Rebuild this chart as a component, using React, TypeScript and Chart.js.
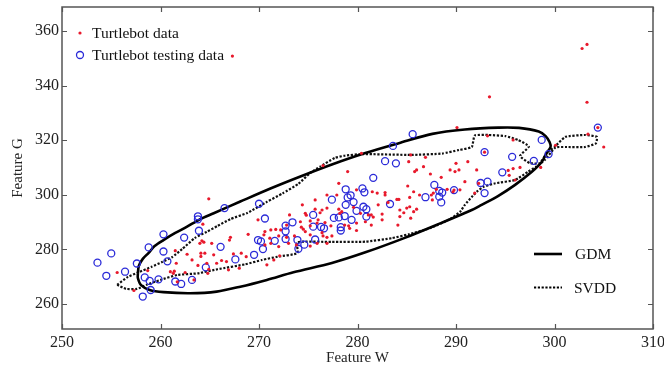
import React, { useEffect, useRef } from "react";
import { Chart, registerables } from "chart.js";

Chart.register(...registerables);

const xTicks = [250, 260, 270, 280, 290, 300, 310];
const yTicks = [260, 280, 300, 320, 340, 360];
const xRange = [250, 310];
const yRange = [250.8, 368.8];

const seriesNames = ["Turtlebot data", "Turtlebot testing data", "GDM", "SVDD"];

const trainingData: [number, number][] = [
  [255.6, 271.5], [257.3, 264.9], [258.7, 272.2], [261.0, 271.8], [261.4, 272.0], [261.3, 271.2], [261.6, 274.9],
  [261.5, 279.5], [262.5, 271.5], [262.7, 278.2], [263.2, 276.1], [263.4, 268.8], [261.7, 268.1], [263.8, 274.1],
  [264.0, 282.2], [264.2, 283.1], [264.4, 282.6], [265.2, 282.2], [264.1, 278.6], [264.5, 278.6], [265.4, 278.0],
  [264.1, 277.4], [264.3, 289.2], [264.9, 298.5], [264.7, 274.9], [264.9, 272.7], [264.8, 271.2], [265.7, 274.9],
  [266.2, 275.9], [266.7, 275.5], [266.9, 272.5], [267.0, 283.4], [267.1, 284.4], [267.4, 278.3], [268.0, 273.1],
  [268.2, 278.6], [268.7, 277.3], [268.9, 285.5], [269.9, 290.8], [270.5, 285.3], [270.6, 286.5], [270.6, 281.6],
  [270.8, 274.3], [271.1, 284.1], [271.2, 282.2], [271.2, 287.1], [271.5, 276.1], [271.7, 287.3], [272.0, 284.9],
  [272.0, 281.0], [272.1, 277.6], [272.2, 287.1], [272.8, 288.9], [272.8, 284.4], [273.0, 282.2], [273.1, 292.6],
  [273.6, 284.9], [273.8, 281.6], [274.2, 290.1], [274.3, 288.1], [274.4, 296.3], [274.5, 287.4], [274.7, 286.5],
  [274.7, 293.2], [274.8, 292.5], [275.2, 290.4], [275.2, 288.6], [275.2, 285.3], [275.2, 281.2], [275.7, 294.7],
  [275.7, 298.1], [275.9, 289.6], [275.9, 282.2], [276.0, 290.8], [276.2, 293.4], [276.4, 294.4], [276.4, 286.1],
  [276.5, 310.7], [276.5, 284.9], [276.7, 289.8], [276.9, 299.9], [276.9, 295.1], [276.9, 284.4], [276.9, 282.2],
  [277.3, 288.6], [277.4, 284.9], [277.9, 299.9], [278.1, 304.2], [278.1, 294.7], [278.4, 293.8], [278.2, 293.2],
  [279.0, 308.5], [278.7, 288.9], [279.1, 288.6], [279.2, 287.7], [279.6, 295.4], [279.9, 301.8], [279.9, 289.6],
  [279.9, 286.9], [280.3, 293.2], [280.4, 315.2], [280.8, 290.1], [281.1, 292.6], [281.4, 292.6], [281.6, 291.8],
  [281.4, 288.9], [281.5, 301.1], [282.0, 300.6], [282.1, 296.3], [282.5, 292.9], [282.5, 290.8], [282.8, 300.8],
  [282.8, 299.9], [283.1, 297.2], [284.0, 298.3], [284.2, 298.3], [284.1, 288.9], [284.3, 294.4], [284.3, 292.0],
  [284.7, 293.4], [285.0, 295.1], [285.3, 295.6], [285.7, 293.8], [286.0, 294.7], [285.4, 291.4], [285.1, 303.2],
  [285.2, 312.1], [285.3, 299.0], [285.4, 314.6], [285.7, 301.1], [285.8, 308.5], [286.0, 309.1], [286.7, 310.3],
  [286.3, 299.9], [286.9, 313.7], [287.4, 307.6], [287.5, 299.9], [287.7, 300.6], [287.6, 298.1], [288.0, 302.0],
  [288.5, 306.4], [289.1, 302.0], [289.4, 309.1], [289.9, 308.5], [290.3, 309.1], [289.7, 301.1], [290.0, 311.5],
  [290.1, 324.6], [290.4, 301.8], [290.9, 304.8], [291.2, 312.1], [291.9, 300.6], [292.1, 309.1], [292.3, 304.2],
  [293.2, 321.6], [293.4, 335.9], [295.3, 308.9], [295.8, 309.6], [296.5, 310.0], [295.4, 307.1], [296.0, 305.4],
  [295.8, 320.1], [298.6, 310.0], [300.1, 318.1], [302.8, 353.6], [303.3, 355.1], [303.3, 333.9], [303.4, 322.2],
  [305.0, 317.5], [267.3, 350.8], [292.9, 315.6], [289.8, 301.7], [304.4, 324.6],
];

const testingData: [number, number][] = [
  [253.6, 275.1], [254.5, 270.3], [255.0, 278.5], [256.4, 271.8], [257.6, 274.8], [258.8, 280.7], [258.4, 269.7],
  [258.9, 268.4], [258.2, 262.7], [259.0, 265.1], [259.8, 269.0], [260.3, 285.5], [260.3, 279.2], [260.7, 275.6],
  [261.5, 268.2], [262.1, 267.3], [262.4, 284.3], [263.2, 268.8], [263.8, 292.1], [263.8, 291.0], [263.9, 286.8],
  [264.6, 273.4], [266.1, 280.9], [266.5, 295.1], [267.6, 276.3], [269.5, 278.0], [270.0, 296.7], [269.9, 283.4],
  [270.2, 282.9], [270.4, 280.1], [270.6, 291.3], [271.6, 283.1], [272.7, 288.7], [272.7, 286.6], [272.7, 283.8],
  [273.4, 289.9], [273.9, 283.4], [274.0, 280.2], [274.6, 281.7], [275.5, 292.6], [275.7, 283.6], [276.3, 288.2],
  [276.6, 287.7], [277.4, 298.2], [277.6, 291.5], [278.1, 291.7], [278.7, 292.2], [278.3, 288.1], [278.3, 286.9],
  [278.8, 302.0], [279.3, 299.8], [279.0, 299.0], [280.5, 302.3], [280.7, 300.9], [279.6, 297.3], [278.8, 296.3],
  [279.9, 294.1], [280.6, 295.6], [280.9, 294.7], [280.9, 292.0], [279.4, 290.8], [281.6, 306.2], [282.8, 312.3],
  [283.9, 311.5], [283.6, 317.9], [285.6, 322.2], [283.3, 296.6], [286.9, 299.1], [287.8, 303.6], [288.3, 301.4],
  [288.6, 300.8], [288.3, 299.3], [288.5, 297.2], [289.8, 301.7], [292.5, 304.3], [293.2, 304.8], [292.9, 300.6],
  [292.9, 315.6], [294.7, 308.2], [295.7, 313.9], [297.9, 312.4], [298.7, 320.1], [299.4, 314.9], [304.4, 324.6],
  [275.5, 288.3],
];

const gdmBoundary: [number, number][] = [
  [257.7, 271.0], [257.8, 273.9], [258.2, 276.5], [258.8, 278.7], [259.4, 281.2], [260.3, 283.4], [261.5, 286.0],
  [262.7, 288.3], [264.0, 291.0], [265.4, 293.2], [268.1, 297.5], [271.1, 302.2], [274.2, 306.7], [277.4, 311.1],
  [280.8, 315.3], [284.2, 318.9], [287.6, 322.3], [290.9, 323.9], [294.3, 324.6], [296.4, 324.5], [298.4, 323.2],
  [299.1, 321.5], [299.5, 319.3], [299.6, 317.5], [299.2, 315.3], [298.7, 312.0], [297.7, 308.4], [296.0, 303.6],
  [294.3, 299.6], [292.6, 296.3], [291.6, 294.4], [288.4, 289.5], [284.8, 284.2], [280.8, 278.9], [277.4, 275.0],
  [273.5, 271.6], [270.8, 268.8], [268.1, 266.3], [265.7, 264.5], [263.0, 263.9], [260.3, 264.3], [258.9, 265.1],
  [258.0, 267.0], [257.7, 269.5], [257.7, 271.0],
];

const svddBoundary: [number, number][] = [
  [255.6, 267.0], [256.7, 269.9], [257.7, 271.5], [259.1, 273.6], [260.2, 275.4], [261.2, 277.2], [262.2, 280.1],
  [263.5, 284.2], [264.7, 286.4], [265.8, 288.6], [267.1, 291.1], [268.8, 293.3], [270.8, 297.4], [272.4, 300.5],
  [274.0, 304.0], [275.2, 308.0], [276.2, 310.3], [277.7, 313.5], [278.7, 314.3], [280.5, 314.9], [285.5, 314.6],
  [288.6, 315.1], [290.3, 316.4], [291.6, 317.5], [291.9, 321.7], [293.3, 321.9], [295.0, 321.5], [296.3, 320.1],
  [297.4, 317.7], [296.5, 314.2], [297.5, 311.6], [298.5, 311.6], [299.3, 315.7], [300.0, 317.5], [301.1, 321.2],
  [303.1, 321.9], [304.3, 321.2], [304.2, 318.8], [303.1, 317.5], [301.1, 317.5], [300.1, 317.3], [299.0, 312.7],
  [298.1, 310.2], [297.3, 308.4], [296.0, 305.4], [294.0, 304.2], [292.8, 302.9], [292.2, 301.4], [291.6, 299.2],
  [290.9, 296.3], [290.4, 293.7], [289.4, 291.1], [287.4, 287.8], [285.2, 285.5], [283.5, 284.1], [280.8, 282.8],
  [277.4, 282.7], [273.9, 282.6], [273.9, 278.6], [271.9, 277.3], [270.3, 276.1], [268.6, 274.5], [265.8, 272.7],
  [263.8, 271.2], [261.7, 270.6], [260.0, 268.8], [258.6, 267.0], [257.6, 265.5], [256.5, 265.5], [255.6, 267.0],
];

const RED = "#e8192c";
const BLUE = "#2a2ad8";
const FONT = '"Liberation Serif", "Times New Roman", serif';

const toXY = (arr: [number, number][]) => arr.map(([x, y]) => ({ x, y }));

const decorPlugin = {
  id: "decor",
  afterDraw(chart: any) {
    const { ctx, chartArea: a, scales } = chart;
    const xs = scales.x;
    const ys = scales.y;
    ctx.save();
    ctx.strokeStyle = "#555";
    ctx.lineWidth = 1.5;
    ctx.strokeRect(a.left, a.top, a.right - a.left, a.bottom - a.top);
    ctx.beginPath();
    for (const v of xTicks) {
      const px = Math.round(xs.getPixelForValue(v)) + 0.5;
      ctx.moveTo(px, a.bottom);
      ctx.lineTo(px, a.bottom - 5);
      ctx.moveTo(px, a.top);
      ctx.lineTo(px, a.top + 5);
    }
    for (const v of yTicks) {
      const py = Math.round(ys.getPixelForValue(v)) + 0.5;
      ctx.moveTo(a.left, py);
      ctx.lineTo(a.left + 5, py);
      ctx.moveTo(a.right, py);
      ctx.lineTo(a.right - 5, py);
    }
    ctx.lineWidth = 1.2;
    ctx.stroke();

    ctx.font = `15.5px ${FONT}`;
    ctx.textBaseline = "middle";
    ctx.textAlign = "left";
    const lx = a.left + 18;
    const r1 = a.top + 26;
    const r2 = a.top + 48;
    ctx.beginPath();
    ctx.arc(lx, r1, 1.6, 0, Math.PI * 2);
    ctx.fillStyle = RED;
    ctx.fill();
    ctx.beginPath();
    ctx.arc(lx, r2, 3.5, 0, Math.PI * 2);
    ctx.strokeStyle = BLUE;
    ctx.lineWidth = 1.3;
    ctx.stroke();
    ctx.fillStyle = "#111";
    ctx.fillText(seriesNames[0], a.left + 30, r1 + 1);
    ctx.fillText(seriesNames[1], a.left + 30, r2 + 1);

    const x0 = a.right - 119;
    const x1 = a.right - 91;
    const g1 = a.bottom - 75;
    const g2 = a.bottom - 41.5;
    ctx.strokeStyle = "#000";
    ctx.lineWidth = 2.6;
    ctx.beginPath();
    ctx.moveTo(x0, g1);
    ctx.lineTo(x1, g1);
    ctx.stroke();
    ctx.setLineDash([2.2, 1.6]);
    ctx.lineWidth = 2.2;
    ctx.beginPath();
    ctx.moveTo(x0, g2);
    ctx.lineTo(x1, g2);
    ctx.stroke();
    ctx.setLineDash([]);
    ctx.fillStyle = "#111";
    ctx.fillText(seriesNames[2], a.right - 78, g1 + 1);
    ctx.fillText(seriesNames[3], a.right - 79, g2 + 1);
    ctx.restore();
  },
};

export default function App() {
  const ref = useRef<HTMLCanvasElement | null>(null);
  useEffect(() => {
    if (!ref.current) return;
    const chart = new Chart(ref.current, {
      type: "scatter",
      data: {
        datasets: [
          {
            label: seriesNames[0],
            data: toXY(trainingData),
            pointRadius: 1.6,
            pointBackgroundColor: RED,
            pointBorderWidth: 0,
            showLine: false,
          },
          {
            label: seriesNames[1],
            data: toXY(testingData),
            pointRadius: 3.5,
            pointBackgroundColor: "rgba(0,0,0,0)",
            pointBorderColor: BLUE,
            pointBorderWidth: 1.3,
            showLine: false,
          },
          {
            label: seriesNames[2],
            data: toXY(gdmBoundary),
            showLine: true,
            pointRadius: 0,
            borderColor: "#000",
            borderWidth: 2.6,
            tension: 0.3,
            fill: false,
          },
          {
            label: seriesNames[3],
            data: toXY(svddBoundary),
            showLine: true,
            pointRadius: 0,
            borderColor: "#111",
            borderWidth: 2.2,
            borderDash: [2.2, 1.6],
            tension: 0.15,
            fill: false,
          },
        ],
      } as any,
      options: {
        animation: false,
        responsive: false,
        events: [],
        layout: { padding: { left: 0, right: 11, top: 7, bottom: 0 } },
        plugins: { legend: { display: false }, tooltip: { enabled: false } },
        scales: {
          x: {
            type: "linear",
            min: xRange[0],
            max: xRange[1],
            afterBuildTicks: (ax: any) => {
              ax.ticks = xTicks.map((v) => ({ value: v }));
            },
            afterFit: (s: any) => {
              s.height = 41;
              s.paddingLeft = 0;
              s.paddingRight = 0;
            },
            ticks: { font: { family: FONT, size: 16 }, color: "#222", padding: 4, maxRotation: 0, autoSkip: false },
            grid: { display: false, drawTicks: false },
            border: { display: false },
            title: {
              display: true,
              text: "Feature W",
              font: { family: FONT, size: 15 },
              color: "#222",
              padding: { top: 0, bottom: 3 },
            },
          },
          y: {
            type: "linear",
            min: yRange[0],
            max: yRange[1],
            afterBuildTicks: (ax: any) => {
              ax.ticks = yTicks.map((v) => ({ value: v }));
            },
            afterFit: (s: any) => {
              s.width = 62;
              s.paddingTop = 0;
              s.paddingBottom = 0;
            },
            ticks: { font: { family: FONT, size: 16 }, color: "#222", padding: 3, autoSkip: false },
            grid: { display: false, drawTicks: false },
            border: { display: false },
            title: {
              display: true,
              text: "Feature G",
              font: { family: FONT, size: 15 },
              color: "#222",
              padding: { top: 9, bottom: 0 },
            },
          },
        },
      } as any,
      plugins: [decorPlugin],
    });
    return () => chart.destroy();
  }, []);
  return (
    <div style={{ position: "fixed", left: 0, top: 0, width: 664, height: 370, background: "#fff" }}>
      <canvas ref={ref} width={664} height={370} style={{ width: 664, height: 370, display: "block" }} />
    </div>
  );
}
